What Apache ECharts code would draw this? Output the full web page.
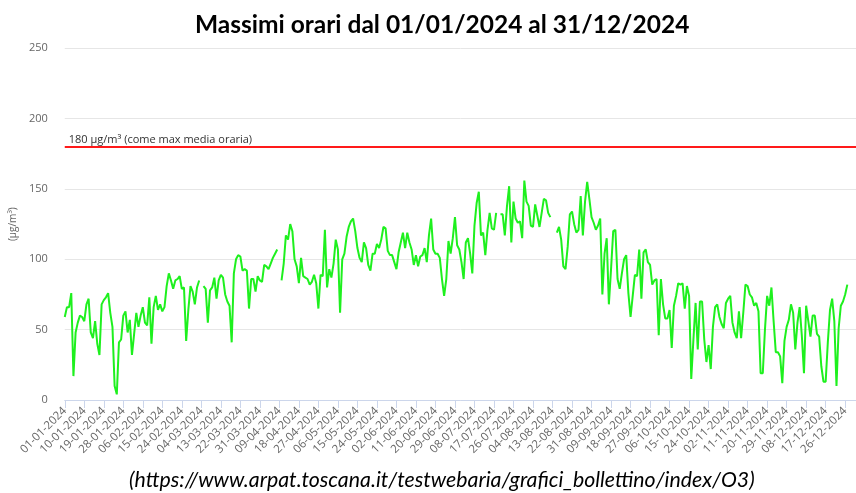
<!DOCTYPE html>
<html>
<head>
<meta charset="utf-8">
<script src="https://cdn.jsdelivr.net/npm/echarts@6/dist/echarts.min.js"></script>
<style>
html,body{margin:0;padding:0;background:#fff;}
#chart{width:856px;height:493px;}
</style>
</head>
<body>
<div id="chart"></div>
<script>
// Daily maximum hourly O3 values (µg/m³), 2024
var jan = [59,66,66,76,17,48,55,60,59,56,68,72,48,44,56,40,32,68,71,73,76,62,52,10,4,41,43,60,63,48,57];
var feb = [32,47,62,52,60,66,55,53,73,40,66,74,64,68,63,66,81,90,85,79,85,86,88,79,80,42,64,81,77];
var mar = [68,80,85,null,81,79,55,78,80,87,72,85,89,87,75,70,67,41,90,100,103,102,92,93,92,65,86,86,77,88,85];
var apr = [84,96,95,93,97,101,104,107,null,85,97,117,114,125,120,100,95,83,101,88,87,86,82,84,89,83,65,89,88,121];
var may = [80,93,87,97,114,107,62,100,104,116,123,127,129,120,108,101,98,112,108,96,92,104,104,111,108,114,123,122,106,103,103];
var jun = [98,93,105,112,119,108,119,112,107,96,103,95,102,103,108,98,117,129,107,104,104,101,86,74,86,113,104,115,130,110];
var jul = [107,98,86,112,115,104,90,124,140,148,117,119,103,121,133,122,121,133,null,132,132,117,138,152,112,141,129,126,127,115,156];
var aug = [141,138,124,123,139,131,123,133,143,142,133,130,null,null,119,123,114,95,93,109,132,134,125,119,121,145,117,141,155,143,130];
var sep = [126,121,124,129,75,104,115,68,93,120,121,86,79,90,100,103,76,59,74,89,88,107,72,105,107,98,96,82,85,86];
var oct = [46,86,68,58,58,64,37,67,74,83,82,83,65,81,74,15,43,69,36,70,70,43,27,39,22,52,66,68,59,54,51];
var nov = [69,72,74,55,48,44,63,44,62,82,81,75,73,67,69,63,19,19,50,74,67,80,56,34,34,31,12,42,52,57];
var dec = [68,62,36,55,66,46,19,67,56,45,60,60,47,45,24,13,13,41,64,72,56,10,51,67,70,75,82,null,null,null,null];

var yTicks = [0, 50, 100, 150, 200, 250];
var limitValue = 180;
var limitLabel = '180 µg/m³ (come max media oraria)';
var titleText = 'Massimi orari dal 01/01/2024 al 31/12/2024';
var sourceText = '(https://www.arpat.toscana.it/testwebaria/grafici_bollettino/index/O3)';

var values = [].concat(jan, feb, mar, apr, may, jun, jul, aug, sep, oct, nov, dec);

// categories: every day of 2024 as dd-mm-yyyy
var monthLengths = [jan, feb, mar, apr, may, jun, jul, aug, sep, oct, nov, dec].map(function (m) { return m.length; });
var categories = [];
monthLengths.forEach(function (len, mi) {
  for (var d = 1; d <= len; d++) {
    categories.push((d < 10 ? '0' : '') + d + '-' + (mi < 9 ? '0' : '') + (mi + 1) + '-2024');
  }
});

var chart = echarts.init(document.getElementById('chart'), null, { renderer: 'canvas' });
var FONT = 'Open Sans';
chart.setOption({
  animation: false,
  backgroundColor: '#ffffff',
  title: [{
    text: titleText,
    left: 190,
    top: 8,
    textStyle: { fontFamily: 'Lato', fontWeight: 'bold', fontSize: 24.5, color: '#000' }
  }, {
    text: sourceText,
    left: 124,
    top: 465,
    textStyle: { fontFamily: 'Lato', fontStyle: 'italic', fontWeight: 'normal', fontSize: 21.3, color: '#000' }
  }],
  grid: { left: 58.5, right: -9.2, top: 48.3, bottom: 93, containLabel: false },
  xAxis: {
    type: 'category',
    data: categories,
    boundaryGap: false,
    axisLine: { lineStyle: { color: '#ccd6eb', width: 1 } },
    axisTick: { show: true, interval: 8, length: 8, lineStyle: { color: '#ccd6eb' } },
    axisLabel: { interval: 8, rotate: 45, color: '#666', fontSize: 11.5, fontFamily: FONT, margin: 9 },
    splitLine: { show: false }
  },
  yAxis: {
    type: 'value',
    min: yTicks[0],
    max: yTicks[yTicks.length - 1],
    interval: 50,
    name: '(µg/m³)',
    nameLocation: 'middle',
    nameGap: 40,
    nameTextStyle: { color: '#666', fontSize: 10, fontFamily: FONT },
    axisLine: { show: false },
    axisTick: { show: false },
    axisLabel: { color: '#666', fontSize: 11, fontFamily: FONT, margin: 17 },
    splitLine: { lineStyle: { color: '#e6e6e6', width: 1 } }
  },
  series: [{
    type: 'line',
    data: values,
    showSymbol: false,
    symbol: 'none',
    connectNulls: false,
    lineStyle: { color: '#1ef01e', width: 2 },
    itemStyle: { color: '#1ef01e' },
    markLine: {
      silent: true,
      symbol: ['none', 'none'],
      data: [{ yAxis: limitValue }],
      lineStyle: { color: '#ff1a1a', width: 2, type: 'solid' },
      label: {
        show: true,
        position: 'insideStartTop',
        formatter: limitLabel,
        color: '#333',
        fontSize: 11,
        fontFamily: FONT,
        distance: [4, 1]
      }
    }
  }]
});
</script>
</body>
</html>
